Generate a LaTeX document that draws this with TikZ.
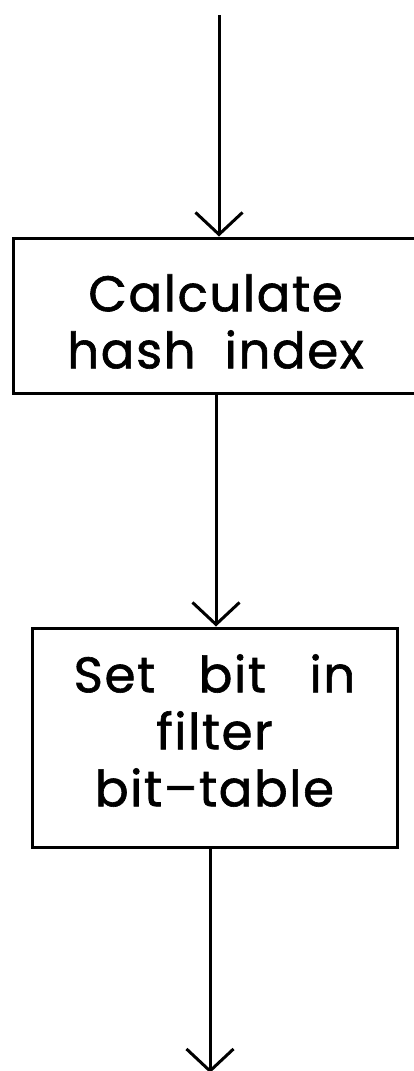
\documentclass[tikz,border=0pt]{standalone}
\usepackage{fontspec}
\newfontfamily\plotfont{Poppins}[FakeBold=1.2, LetterSpace=3]
\usetikzlibrary{arrows.meta}

\tikzset{
  flowbox/.style={draw, line width=3pt, inner sep=0pt},
  steptext/.style={align=center, inner sep=0pt,
    font=\plotfont\fontsize{50}{57}\selectfont},
  flowarrow/.style={line width=3pt,
    -{Straight Barb[length=22pt,width=47pt,line width=3pt]}},
}
\newcommand{\wgap}[1]{\hspace{#1em}}

\begin{document}
\begin{tikzpicture}[x=1pt,y=-1pt]
  \useasboundingbox (0,0) rectangle (414,1071);
  \clip (0,0) rectangle (414,1071);

  % process steps
  \node[flowbox, minimum width=405pt, minimum height=155pt] (calc)
    at (215.5,315.5) {};
  \node[steptext] (calctext) at ([yshift=-6pt]calc.center)
    {Calculate\\hash\wgap{0.58}index};
  \node[flowbox, minimum width=365pt, minimum height=219pt] (setbit)
    at (214.5,737.5) {};
  \node[steptext] (setbittext) at ([yshift=7pt]setbit.center)
    {Set\wgap{0.87}bit\wgap{0.87}in\\filter\\bit–table};

  % flow connectors
  \coordinate (entry) at (219,15);
  \coordinate (exit) at (210,1073);
  \draw[flowarrow] (entry) -- (calc.north -| entry);
  \draw[flowarrow] (calc.south -| 216,0) -- (setbit.north -| 216,0);
  \draw[flowarrow] (setbit.south -| exit) -- (exit);
\end{tikzpicture}
\end{document}
